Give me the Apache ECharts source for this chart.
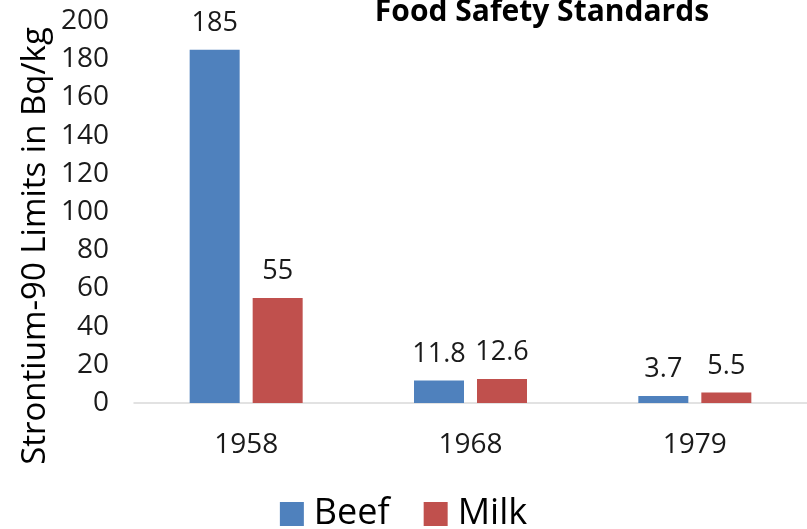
<!DOCTYPE html>
<html>
<head>
<meta charset="utf-8">
<script src="https://cdn.jsdelivr.net/npm/echarts@6/dist/echarts.min.js"></script>
<style>
  html, body { margin: 0; padding: 0; background: #fff; }
  #chart { width: 807px; height: 529px; }
</style>
</head>
<body>
<div id="chart"></div>
<script>
// Strontium-90 food safety limits by year
const years = ['1958', '1968', '1979'];
const beef = [185, 11.8, 3.7];
const milk = [55, 12.6, 5.5];
const yTicks = [0, 20, 40, 60, 80, 100, 120, 140, 160, 180, 200];

const FONT = '"Open Sans", "Noto Sans", sans-serif';
const chart = echarts.init(document.getElementById('chart'));

const labelStyle = {
  show: true,
  position: 'top',
  distance: 13,
  fontFamily: FONT,
  fontSize: 27,
  color: '#1a1a1a'
};

chart.setOption({
  animation: false,
  backgroundColor: '#ffffff',
  title: {
    text: 'Food Safety Standards',
    left: 537,
    textAlign: 'center',
    top: -8,
    textStyle: { fontFamily: FONT, fontSize: 30, fontWeight: 'bold', color: '#000' }
  },
  graphic: [{
    type: 'text',
    rotation: Math.PI / 2,
    x: 36,
    y: 246,
    style: {
      text: 'Strontium-90 Limits in Bq/kg',
      fontFamily: FONT,
      fontSize: 33,
      fill: '#000',
      textAlign: 'center',
      textVerticalAlign: 'middle'
    }
  }],
  legend: {
    data: ['Beef', 'Milk'],
    bottom: -8,
    left: 'center',
    itemWidth: 24,
    itemHeight: 24,
    itemGap: 34,
    icon: 'rect',
    textStyle: { fontFamily: FONT, fontSize: 36, color: '#000', padding: [0, 0, 0, 5] }
  },
  grid: { left: 134, right: 0, top: 21, bottom: 126 },
  xAxis: {
    type: 'category',
    data: years,
    axisLine: { lineStyle: { color: '#d9d9d9', width: 1.5 } },
    axisTick: { show: false },
    axisLabel: { fontFamily: FONT, fontSize: 28, color: '#1a1a1a', margin: 28 }
  },
  yAxis: {
    type: 'value',
    min: yTicks[0],
    max: yTicks[yTicks.length - 1],
    interval: yTicks[1] - yTicks[0],
    axisLine: { show: false },
    axisTick: { show: false },
    splitLine: { show: false },
    axisLabel: { fontFamily: FONT, fontSize: 28, color: '#1a1a1a', margin: 25 }
  },
  series: [
    {
      name: 'Beef',
      type: 'bar',
      data: beef,
      barWidth: 50,
      barGap: '26%',
      itemStyle: { color: '#4f81bd' },
      label: labelStyle
    },
    {
      name: 'Milk',
      type: 'bar',
      data: milk,
      barWidth: 50,
      itemStyle: { color: '#c0504d' },
      label: labelStyle
    }
  ]
});
</script>
</body>
</html>
